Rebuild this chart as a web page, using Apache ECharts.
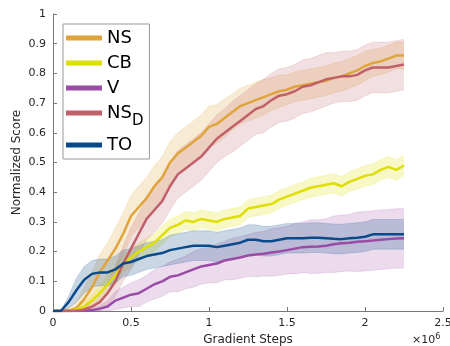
<!DOCTYPE html>
<html>
<head>
<meta charset="utf-8">
<script src="https://cdn.jsdelivr.net/npm/echarts@6/dist/echarts.min.js"></script>
<style>html,body{margin:0;padding:0;background:#fff}#c{width:450px;height:346px}</style>
</head>
<body>
<div id="c"></div>
<script>
// Gradient steps (millions)
const steps = [0,0.05,0.1,0.15,0.2,0.25,0.3,0.35,0.4,0.45,0.5,0.55,0.6,0.65,0.7,0.75,0.8,0.85,0.9,0.95,1.0,1.05,1.1,1.15,1.2,1.25,1.3,1.35,1.4,1.45,1.5,1.55,1.6,1.65,1.7,1.75,1.8,1.85,1.9,1.95,2.0,2.05,2.1,2.15,2.2,2.25];
const seriesNames = ['NS','CB','V','NS_D','TO'];
const xTicks = ['0','0.5','1','1.5','2','2.5'];

const nsMean = [0,0,0,0.01,0.04,0.08,0.13,0.17,0.21,0.26,0.32,0.35,0.38,0.42,0.45,0.50,0.53,0.55,0.57,0.59,0.62,0.63,0.65,0.67,0.69,0.70,0.71,0.72,0.73,0.74,0.745,0.755,0.76,0.765,0.77,0.775,0.785,0.79,0.80,0.81,0.825,0.835,0.84,0.85,0.86,0.86];
const nsStd  = [0,0,0.01,0.02,0.04,0.05,0.06,0.06,0.07,0.07,0.07,0.07,0.07,0.07,0.07,0.07,0.07,0.07,0.07,0.07,0.07,0.065,0.065,0.06,0.06,0.06,0.06,0.06,0.055,0.055,0.05,0.05,0.05,0.05,0.05,0.05,0.05,0.05,0.05,0.05,0.05,0.045,0.045,0.045,0.045,0.045];

const cbMean = [0,0,0,0.005,0.015,0.035,0.06,0.09,0.12,0.16,0.18,0.20,0.215,0.23,0.255,0.28,0.29,0.305,0.30,0.31,0.305,0.30,0.31,0.315,0.32,0.345,0.35,0.355,0.36,0.375,0.385,0.395,0.405,0.415,0.42,0.425,0.43,0.42,0.435,0.445,0.455,0.46,0.475,0.485,0.475,0.49];
const cbStd  = [0,0,0.005,0.01,0.015,0.02,0.025,0.03,0.03,0.03,0.03,0.03,0.03,0.03,0.03,0.03,0.03,0.03,0.03,0.03,0.03,0.03,0.03,0.03,0.03,0.03,0.03,0.03,0.03,0.03,0.03,0.03,0.03,0.032,0.032,0.032,0.033,0.033,0.033,0.034,0.035,0.035,0.035,0.035,0.035,0.035];

const vMean = [0,0,0,0,0,0.003,0.008,0.015,0.035,0.045,0.055,0.06,0.075,0.09,0.10,0.115,0.12,0.13,0.14,0.15,0.155,0.16,0.17,0.175,0.18,0.187,0.19,0.193,0.197,0.20,0.205,0.21,0.215,0.216,0.217,0.22,0.225,0.228,0.23,0.233,0.235,0.237,0.24,0.242,0.244,0.245];
const vStd  = [0,0,0,0,0,0.005,0.01,0.02,0.03,0.035,0.04,0.045,0.045,0.05,0.05,0.05,0.055,0.055,0.06,0.06,0.06,0.065,0.065,0.07,0.07,0.07,0.075,0.075,0.08,0.08,0.08,0.085,0.085,0.09,0.09,0.09,0.095,0.095,0.095,0.1,0.1,0.1,0.1,0.1,0.1,0.1];

const nsdMean = [0,0,0,0,0.005,0.015,0.03,0.06,0.10,0.16,0.21,0.26,0.31,0.34,0.37,0.42,0.46,0.48,0.50,0.52,0.55,0.58,0.60,0.62,0.64,0.66,0.68,0.69,0.71,0.725,0.73,0.74,0.755,0.76,0.77,0.78,0.785,0.79,0.79,0.795,0.81,0.82,0.82,0.82,0.825,0.83];
const nsdStd  = [0,0,0,0,0.01,0.02,0.03,0.04,0.05,0.06,0.07,0.07,0.07,0.075,0.075,0.08,0.08,0.08,0.08,0.08,0.08,0.08,0.08,0.085,0.085,0.085,0.085,0.09,0.09,0.09,0.09,0.09,0.09,0.09,0.09,0.09,0.085,0.085,0.085,0.085,0.085,0.085,0.085,0.085,0.085,0.085];

const toMean = [0,0,0.03,0.07,0.105,0.125,0.13,0.13,0.14,0.16,0.165,0.175,0.185,0.19,0.195,0.205,0.21,0.215,0.22,0.22,0.22,0.215,0.22,0.225,0.23,0.24,0.24,0.235,0.235,0.24,0.245,0.245,0.245,0.247,0.247,0.245,0.243,0.242,0.245,0.247,0.25,0.258,0.258,0.258,0.258,0.258];
const toStd  = [0,0,0.02,0.04,0.045,0.045,0.045,0.045,0.045,0.045,0.045,0.045,0.045,0.045,0.045,0.05,0.05,0.05,0.05,0.05,0.05,0.05,0.05,0.05,0.05,0.05,0.05,0.05,0.05,0.05,0.05,0.05,0.05,0.05,0.05,0.05,0.05,0.05,0.05,0.05,0.05,0.05,0.05,0.05,0.05,0.05];

const colors = {
  NS:   '#DFA43A',
  CB:   '#DEDE00',
  V:    '#9A4BA6',
  NS_D: '#C0606A',
  TO:   '#0B4A8A'
};
const bandAlpha = { NS:0.22, CB:0.22, V:0.2, NS_D:0.2, TO:0.22 };

const means = { NS:nsMean, CB:cbMean, V:vMean, NS_D:nsdMean, TO:toMean };
const stds  = { NS:nsStd,  CB:cbStd,  V:vStd,  NS_D:nsdStd,  TO:toStd };

function hexA(hex, a){
  const r=parseInt(hex.slice(1,3),16), g=parseInt(hex.slice(3,5),16), b=parseInt(hex.slice(5,7),16);
  return 'rgba('+r+','+g+','+b+','+a+')';
}

const series = [];
seriesNames.forEach(function(n, k){
  const m = means[n], s = stds[n];
  const bandData = steps.map(function(x,i){ return [x*1e6, Math.max(0, m[i]-s[i]), m[i]+s[i]]; });
  series.push({
    name: n+'_band', type:'custom', silent:true, z:1,
    data: bandData,
    encode:{x:0, y:[1,2]},
    renderItem: function(params, api){
      if (params.dataIndex !== 0) return null;
      const top = bandData.map(function(d){ return api.coord([d[0], d[2]]); });
      const bot = bandData.map(function(d){ return api.coord([d[0], d[1]]); }).reverse();
      const cs = params.coordSys;
      return {
        type:'group',
        clipPath:{type:'rect', shape:{x:cs.x, y:cs.y, width:cs.width, height:cs.height}},
        children:[
          {type:'polygon', shape:{points: top.concat(bot)}, style:{fill:hexA(colors[n], bandAlpha[n]), stroke:null}},
          {type:'polyline', shape:{points: top}, style:{fill:null, stroke:hexA(colors[n],0.22), lineWidth:0.8}},
          {type:'polyline', shape:{points: bot}, style:{fill:null, stroke:hexA(colors[n],0.22), lineWidth:0.8}}
        ]
      };
    }
  });
});
seriesNames.forEach(function(n, k){
  series.push({
    name: n, type:'line', data: steps.map(function(x,i){ return [x*1e6, means[n][i]]; }),
    symbol:'none', color: colors[n], lineStyle:{width:2.5, color:colors[n]}, z:3+k
  });
});

const chart = echarts.init(document.getElementById('c'), null, {renderer:'canvas'});
const FONT = 'DejaVu Sans';
chart.setOption({
  animation:false,
  backgroundColor:'#fff',
  grid:{left:53, right:7, top:14, bottom:35, containLabel:false, outerBoundsMode:'none'},
  xAxis:{
    type:'value', min:0, max:2.5e6, interval:5e5,
    name:'Gradient Steps', nameLocation:'middle', nameGap:22,
    nameTextStyle:{fontFamily:FONT, fontSize:12, color:'#262626'},
    axisLine:{show:true, lineStyle:{color:'#777', width:1}},
    axisTick:{show:true, inside:true, length:4, lineStyle:{color:'#777'}},
    axisLabel:{fontFamily:FONT, fontSize:11, color:'#262626', margin:7,
      formatter:function(v){ return xTicks[Math.round(v/5e5)]; }},
    splitLine:{show:false}
  },
  yAxis:{
    type:'value', min:0, max:1, interval:0.1,
    name:'Normalized Score', nameLocation:'middle', nameGap:30, nameMoveOverlap:false,
    nameTextStyle:{fontFamily:FONT, fontSize:12, color:'#262626'},
    axisLine:{show:true, lineStyle:{color:'#777', width:1}},
    axisTick:{show:true, inside:true, length:4, lineStyle:{color:'#777'}},
    axisLabel:{fontFamily:FONT, fontSize:11, color:'#262626', margin:7,
      formatter:function(v){ return String(Math.round(v*10)/10); }},
    splitLine:{show:false}
  },
  legend:{
    data: seriesNames,
    orient:'vertical', left:63, top:24,
    padding:[5,6,5,3], itemGap:7,
    itemWidth:36, itemHeight:5, icon:'rect', itemStyle:{borderWidth:0},
    backgroundColor:'#fff', borderColor:'#999', borderWidth:1,
    selectedMode:false,
    textStyle:{fontFamily:FONT, fontSize:18, color:'#000',
      rich:{
        m:{fontFamily:FONT, fontSize:18, color:'#000'},
        s:{fontFamily:FONT, fontSize:15, color:'#000', padding:[17,0,0,0]}
      }
    },
    formatter:function(name){
      if(name==='NS_D') return '{m|NS}{s|D}';
      return '{m|'+name+'}';
    }
  },
  graphic:[{
    type:'text', left:412, top:333,
    style:{
      text:'{a|×10}{b|6}',
      rich:{
        a:{fontFamily:FONT, fontSize:11, fill:'#262626', padding:[7,0,0,0]},
        b:{fontFamily:FONT, fontSize:8, fill:'#262626'}
      }
    }
  }],
  series: series
});
</script>
</body>
</html>
